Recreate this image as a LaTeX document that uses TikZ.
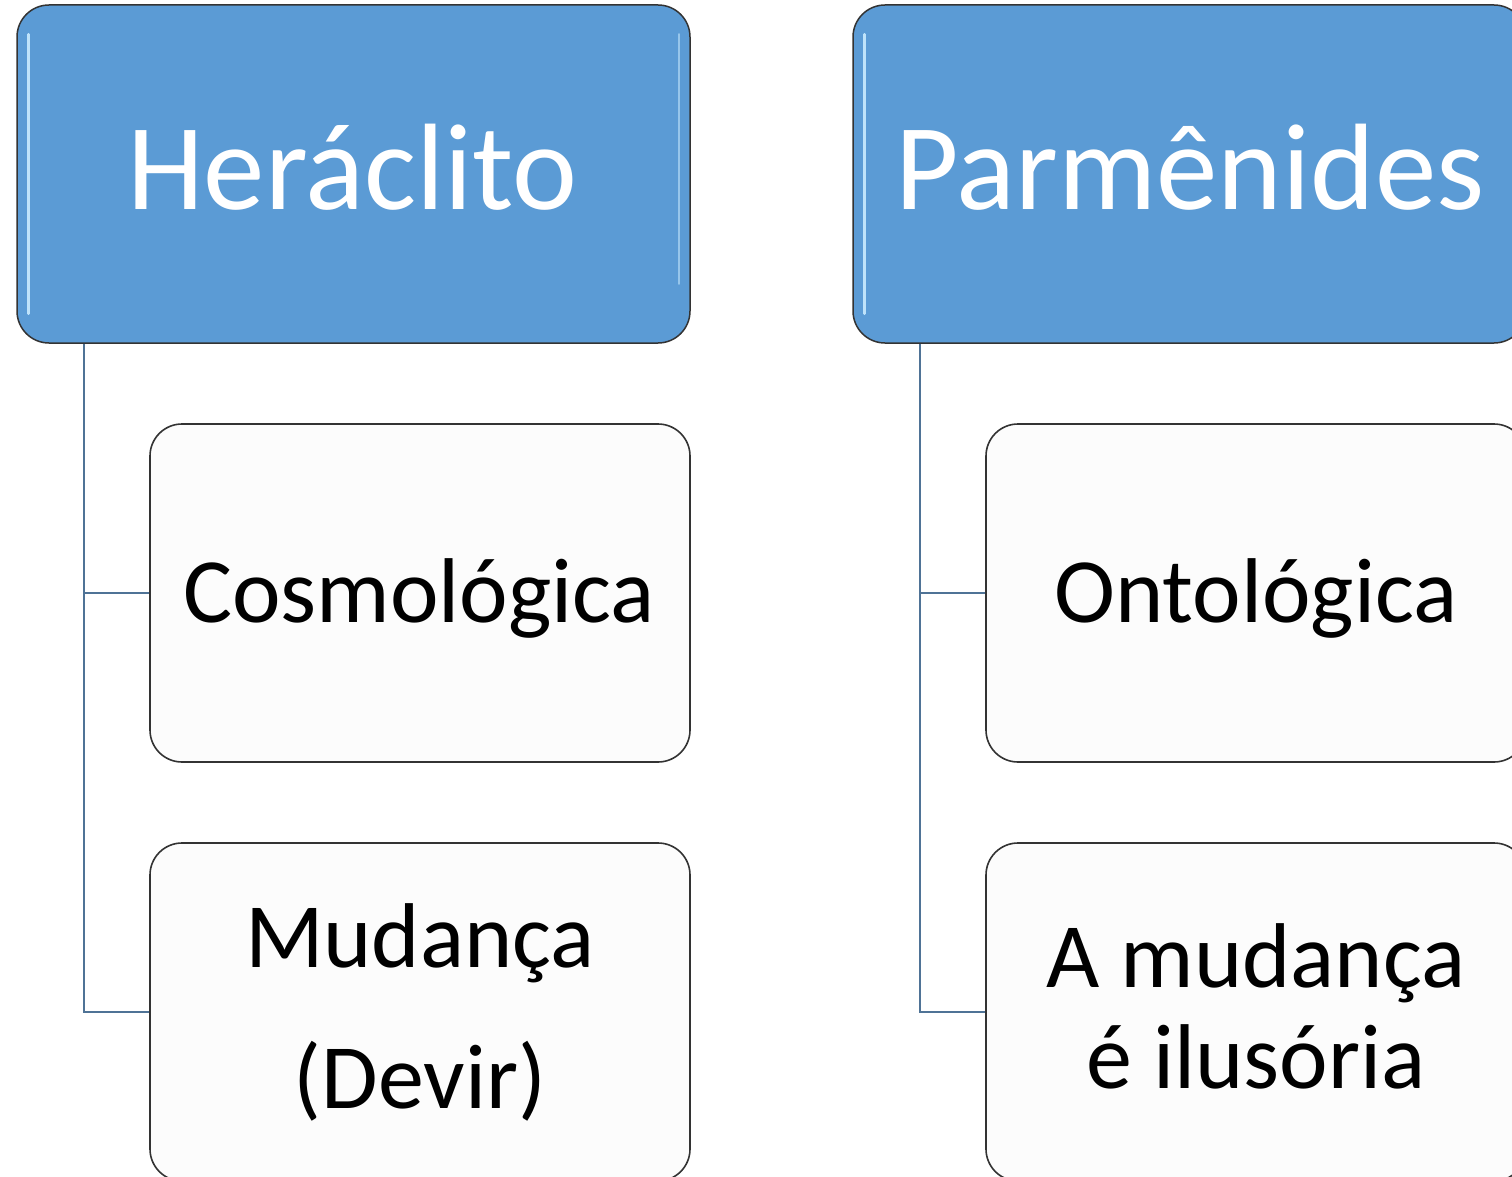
\documentclass[tikz,border=0pt]{standalone}
\usepackage{fontspec}
\setmainfont{Carlito}
\definecolor{hdrblue}{HTML}{5B9BD5}
\definecolor{connblue}{HTML}{4F7396}
\definecolor{boxline}{HTML}{333333}
\definecolor{boxfill}{HTML}{FCFCFC}
\definecolor{gloss}{HTML}{BFE3FA}
\begin{document}
\begin{tikzpicture}[x=1pt,y=-1pt,
  hdrbox/.style={draw=boxline, line width=1.5pt, fill=hdrblue, rounded corners=32pt,
    minimum width=673pt, minimum height=338pt, inner sep=0pt},
  subbox/.style={draw=boxline, line width=1.6pt, fill=boxfill, rounded corners=32pt,
    minimum width=540pt, minimum height=338pt, inner sep=0pt},
  hdrtext/.style={anchor=base, text=white, font=\fontsize{123}{140}\selectfont, inner sep=0pt},
  subtext/.style={anchor=base, text=black, font=\fontsize{92}{110}\selectfont, inner sep=0pt},
  glossline/.style={draw=gloss, line width=2.5pt, line cap=round},
  conn/.style={draw=connblue, line width=2.2pt}]
\clip (0,0) rectangle (1512,1177);
\fill[white] (0,0) rectangle (1512,1177);
% header boxes
\node[hdrbox] (h1) at (353.5,174) {};
\node[hdrbox] (h2) at (1189.5,174) {};
\foreach \h in {h1,h2}{
  \draw[glossline] ([xshift=12pt,yshift=-30pt]\h.north west) -- ([xshift=12pt,yshift=30pt]\h.south west);
  \draw[glossline, draw=gloss!60!hdrblue] ([xshift=-12pt,yshift=-30pt]\h.north east) -- ([xshift=-12pt,yshift=60pt]\h.south east);
}
% sub boxes
\node[subbox] (c1) at (420,593) {};
\node[subbox] (c2) at (420,1012) {};
\node[subbox] (c3) at (1256,593) {};
\node[subbox] (c4) at (1256,1012) {};
% connectors
\coordinate (k1) at ([xshift=68pt]h1.south west);
\coordinate (k2) at ([xshift=68pt]h2.south west);
\draw[conn] (k1) |- (c1.west);
\draw[conn] (k1) |- (c2.west);
\draw[conn] (k2) |- (c3.west);
\draw[conn] (k2) |- (c4.west);
% texts
\node[hdrtext] (t1) at (352.5,210) {Heráclito};
\node[hdrtext] (t2) at (1190,210) {Parmênides};
\node[subtext] (s1) at (419,622) {Cosmológica};
\node[subtext] (s2a) at (420,967) {Mudança};
\node[subtext] (s2b) at (420,1108) {(Devir)};
\node[subtext] (s3) at (1256,622) {Ontológica};
\node[subtext] (s4a) at (1256,987) {A mudança};
\node[subtext] (s4b) at (1256,1088) {é ilusória};
\end{tikzpicture}
\end{document}
